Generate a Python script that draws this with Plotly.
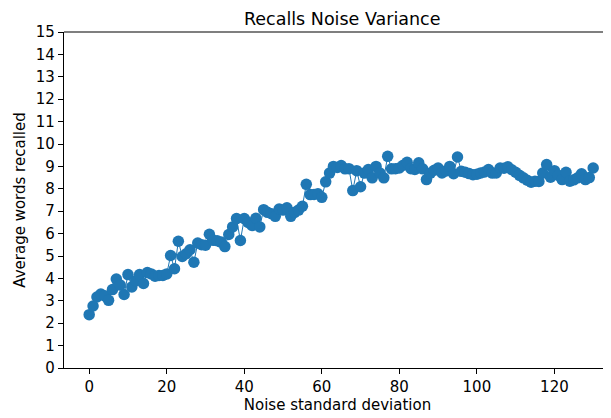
import plotly.graph_objects as go

noise_sd = list(range(0, 131))
avg_recalled = [
    2.38, 2.77, 3.17, 3.30, 3.22, 3.02, 3.50, 3.97, 3.70, 3.28,
    4.17, 3.62, 3.90, 4.17, 3.77, 4.26, 4.20, 4.10, 4.13, 4.13,
    4.20, 5.02, 4.43, 5.66, 4.98, 5.10, 5.28, 4.72, 5.58, 5.50,
    5.48, 5.97, 5.70, 5.68, 5.62, 5.42, 5.96, 6.30, 6.67, 5.69,
    6.67, 6.50, 6.36, 6.68, 6.30, 7.07, 6.95, 6.89, 6.77, 7.10,
    7.05, 7.15, 6.77, 6.95, 7.05, 7.22, 8.20, 7.74, 7.75, 7.78,
    7.62, 8.31, 8.70, 9.00, 8.95, 9.04, 8.89, 8.90, 7.92, 8.81,
    8.09, 8.70, 8.86, 8.49, 9.00, 8.70, 8.49, 9.45, 8.89, 8.90,
    8.93, 9.05, 9.18, 8.90, 8.86, 9.16, 8.89, 8.41, 8.70, 8.83,
    8.93, 8.71, 8.80, 9.00, 8.67, 9.42, 8.78, 8.74, 8.68, 8.63,
    8.65, 8.71, 8.75, 8.86, 8.70, 8.71, 8.93, 8.92, 8.98, 8.85,
    8.74, 8.60, 8.49, 8.38, 8.29, 8.34, 8.33, 8.70, 9.08, 8.52,
    8.81, 8.60, 8.41, 8.74, 8.34, 8.40, 8.49, 8.67, 8.41, 8.50,
    8.93,
]
x_ticks = [0, 20, 40, 60, 80, 100, 120]
y_ticks = list(range(0, 16))

color = "#1f77b4"
font = "DejaVu Sans"

fig = go.Figure()
fig.add_trace(go.Scatter(
    x=noise_sd, y=avg_recalled, mode="lines+markers",
    line=dict(color=color, width=1),
    marker=dict(color=color, size=11.5),
    showlegend=False,
))

fig.update_layout(
    width=611, height=418,
    margin=dict(l=56, r=8, t=24, b=58),
    paper_bgcolor="white", plot_bgcolor="white",
    font=dict(family=font, size=15, color="black"),
    title=dict(text="Recalls Noise Variance", x=0.547, xanchor="center",
               y=0.974, yanchor="middle", font=dict(size=17.5, family=font)),
    xaxis=dict(
        range=[-6.5, 134.6], tickvals=x_ticks, showgrid=False, zeroline=False,
        automargin=False,
        showline=True, linecolor="black", linewidth=1.2,
        ticks="outside", ticklen=5, tickcolor="black", tickwidth=1,
        title=dict(text="Noise standard deviation", standoff=4,
                   font=dict(size=15)),
        tickfont=dict(size=15),
    ),
    yaxis=dict(
        range=[0, 15], tickvals=y_ticks, showgrid=False, zeroline=False,
        automargin=False,
        showline=True, linecolor="black", linewidth=1.2,
        ticks="outside", ticklen=5, tickcolor="black", tickwidth=1,
        title=dict(text="Average words recalled", standoff=6,
                   font=dict(size=15)),
        tickfont=dict(size=15),
    ),
    shapes=[dict(type="line", xref="paper", yref="paper", x0=0, x1=1,
                 y0=1, y1=1, line=dict(color="black", width=1.2))],
)

fig.write_html("out.html")
